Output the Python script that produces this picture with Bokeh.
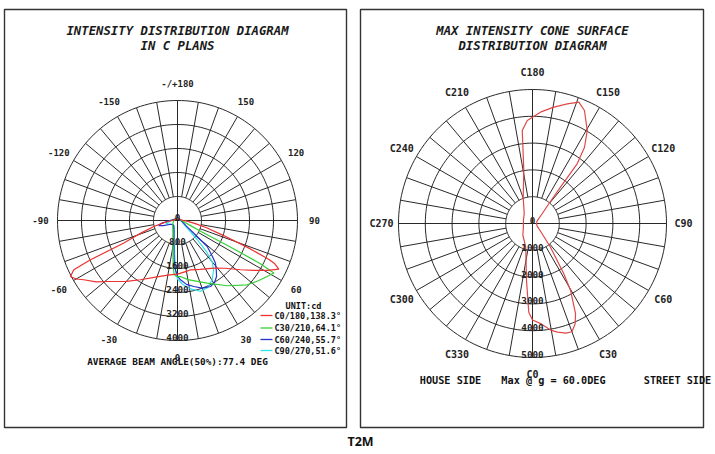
import numpy as np
from bokeh.plotting import figure
from bokeh.models import Range1d
from bokeh.embed import file_html
from bokeh.resources import INLINE
from bokeh.core.properties import value

# ---------------- data ----------------
# Left: intensity (cd) vs gamma angle (deg) in C planes
red_g = [-180, -150, -120, -100, -90, -85, -80, -75.8, -71, -67.2, -65.7, -64.6, -62.4, -60, -57.7, -53, -49, -40, -32, -20, -10, 0,
         10, 14.8, 25, 37.3, 45, 52, 57, 60.9, 64.4, 66, 67, 69, 72, 76, 80, 85, 90, 100, 120, 150, 180]
red_i = [60, 60, 80, 120, 180, 300, 500, 815, 1290, 1940, 3183, 3827, 4027, 3900, 3695, 3400, 3100, 2650, 2330, 2000, 1850, 1787,
         1720, 1700, 1800, 1997, 2250, 2667, 3050, 3423, 3745, 3550, 3300, 2500, 1600, 1000, 600, 350, 200, 120, 80, 60, 60]

green_g = [-180, -120, -90, -60, -40, -20, -10, -6, -4, -2, 0, 3, 10, 25.4, 37.3, 47.3, 53, 58, 61.4, 62.5, 63.5, 65, 70, 80, 90, 120, 180]
green_i = [60, 80, 120, 180, 250, 450, 900, 1400, 1750, 1850, 1870, 1870, 2000, 2310, 2735, 3160, 3350, 3525, 3657, 3100, 1900, 900, 400, 200, 140, 80, 60]

blue_g = [-180, -120, -90, -80, -75, -70, -60, -40, -20, -10, -5, -3, 0, 2.9, 8, 13.9, 20, 26.6, 31, 34.9, 38, 41.7, 45, 48.8, 52, 58, 70, 90, 120, 180]
blue_i = [60, 100, 250, 550, 650, 500, 250, 200, 350, 700, 1300, 1600, 1850, 1980, 2150, 2266, 2400, 2460, 2400, 2275, 2100, 1900, 1600, 1316, 690, 350, 200, 120, 80, 60]

cyan_g = [-180, -120, -90, -75, -60, -40, -20, -10, -5, -2, 0, 5, 12, 18, 24, 30, 36, 40, 43, 46, 50, 60, 75, 90, 120, 180]
cyan_i = [60, 100, 200, 400, 250, 200, 300, 600, 1100, 1700, 1950, 2150, 2350, 2480, 2450, 2300, 2050, 1800, 1400, 900, 500, 250, 150, 100, 80, 60]

left_rings = [800, 1600, 2400, 3200, 4000]
left_ring_labels = ["0", "800", "1600", "2400", "3200", "4000"]
left_tick_angles = [-180, -150, -120, -90, -60, -30, 0, 30, 60, 90, 120, 150]
left_tick_labels = ["-/+180", "-150", "-120", "-90", "-60", "-30", "0", "30", "60", "90", "120", "150"]

legend_labels = ["C0/180,138.3°", "C30/210,64.1°", "C60/240,55.7°", "C90/270,51.6°"]

# Right: intensity (cd) at gamma = 60 deg vs C angle
cone_c = [0, 5, 10, 13, 17, 20, 23, 25.5, 29.6, 31.9, 37.2, 45, 60, 90, 120, 135, 140, 142.4, 143.2, 145.7, 149.5, 155.3, 159.1, 163.8,
          170, 175.9, 182.9, 186.3, 189.3, 199.5, 220, 250, 270, 290, 320, 344, 354, 357.6, 360]
cone_i = [3600, 3760, 4050, 4160, 4280, 4300, 4070, 3730, 2875, 2210, 1110, 450, 200, 150, 200, 500, 900, 1710, 2780, 3445, 4025, 4640, 4845, 4650,
          4400, 4165, 3850, 3490, 2005, 1040, 480, 360, 340, 360, 560, 920, 2140, 3313, 3600]

right_rings = [1000, 2000, 3000, 4000, 5000]
right_ring_labels = ["0", "1000", "2000", "3000", "4000", "5000"]
right_tick_angles = [0, 30, 60, 90, 120, 150, 180, 210, 240, 270, 300, 330]
right_tick_labels = ["C0", "C30", "C60", "C90", "C120", "C150", "C180", "C210", "C240", "C270", "C300", "C330"]

# ---------------- layout ----------------
W, H = 715, 454
LCX, LCY, LR = 177, 220, 120      # left polar centre / radius (px)
RCX, RCY, RR = 532, 223, 134      # right polar centre / radius (px)

p = figure(width=W, height=H, x_range=Range1d(0, W), y_range=Range1d(H, 0),
           output_backend="svg", toolbar_location=None, min_border=0,
           x_axis_location=None, y_axis_location=None, title=None)
p.grid.visible = False
p.outline_line_color = None
p.background_fill_color = "white"
p.border_fill_color = "white"
p.styles = {"position": "absolute", "left": "0px", "top": "0px"}

lmax, rmax = left_rings[-1], right_rings[-1]
p.extra_x_ranges = {
    "L": Range1d(-LCX * lmax / LR, (W - LCX) * lmax / LR),
    "R": Range1d(-RCX * rmax / RR, (W - RCX) * rmax / RR),
}
p.extra_y_ranges = {
    "L": Range1d(-(H - LCY) * lmax / LR, LCY * lmax / LR),
    "R": Range1d(-(H - RCY) * rmax / RR, RCY * rmax / RR),
}

# panel frames
p.quad(left=[4, 360], right=[346, 703], top=[9, 9], bottom=[427, 427],
       fill_color=None, line_color="#333333", line_width=1.4)

MONO = "DejaVu Sans Mono"
GRID = "#1e1e1e"


def polar_grid(rng, rings):
    r0, r1 = rings[0], rings[-1]
    t = np.radians(np.arange(0, 361, 2))
    xs = [list(r * np.sin(t)) for r in rings]
    ys = [list(r * np.cos(t)) for r in rings]
    for a in range(0, 360, 10):
        ar = np.radians(a)
        if a % 90 == 0:
            continue
        xs.append([r0 * np.sin(ar), r1 * np.sin(ar)])
        ys.append([r0 * np.cos(ar), r1 * np.cos(ar)])
    xs += [[-r1, r1], [0, 0]]
    ys += [[0, 0], [-r1, r1]]
    p.multi_line(xs, ys, line_color=GRID, line_width=0.95, x_range_name=rng, y_range_name=rng)


polar_grid("L", left_rings)
polar_grid("R", right_rings)


def polar_xy(ang, inten):
    a = np.radians(np.asarray(ang, dtype=float))
    r = np.asarray(inten, dtype=float)
    return r * np.sin(a), -r * np.cos(a)


curves = [(cyan_g, cyan_i, "#33e0e8"), (blue_g, blue_i, "#2633c8"),
          (green_g, green_i, "#35d035"), (red_g, red_i, "#ee3030")]
for g, i, c in curves:
    x, y = polar_xy(g, i)
    p.line(x, y, line_color=c, line_width=1.2, x_range_name="L", y_range_name="L")

x, y = polar_xy(cone_c, cone_i)
p.line(x, y, line_color="#e04848", line_width=1.2, x_range_name="R", y_range_name="R")

# ring labels
p.text(x=[0] * 6, y=[-v for v in [0] + left_rings], text=left_ring_labels, x_range_name="L", y_range_name="L",
       text_font=value(MONO), text_font_style="bold", text_font_size="9.3px", text_color="#222222",
       text_align="center", text_baseline="middle", y_offset=-3)
p.text(x=[0] * 6, y=[-v for v in [0] + right_rings], text=right_ring_labels, x_range_name="R", y_range_name="R",
       text_font=value(MONO), text_font_style="bold", text_font_size="9.3px", text_color="#222222",
       text_align="center", text_baseline="middle", y_offset=-3)

# angle labels
lx, ly = polar_xy(left_tick_angles, [lmax * 137 / LR] * len(left_tick_angles))
p.text(x=lx, y=ly, text=left_tick_labels, x_range_name="L", y_range_name="L",
       text_font=value(MONO), text_font_style="bold", text_font_size="9px", text_color="#222222",
       text_align="center", text_baseline="middle")
rx, ry = polar_xy(right_tick_angles, [rmax * 151 / RR] * len(right_tick_angles))
p.text(x=rx, y=ry, text=right_tick_labels, x_range_name="R", y_range_name="R",
       text_font=value(MONO), text_font_style="bold", text_font_size="10px", text_color="#222222",
       text_align="center", text_baseline="middle")

# titles
p.text(x=[177, 177, 532, 532], y=[30, 45, 30, 45],
       text=["INTENSITY DISTRIBUTION DIAGRAM", "IN C PLANS", "MAX INTENSITY CONE SURFACE", "DISTRIBUTION DIAGRAM"],
       text_font=value(MONO), text_font_style="bold italic", text_font_size="12.3px", text_color="#1a1a1a",
       text_align="center", text_baseline="middle")

# legend
leg_colors = ["#ee3030", "#35d035", "#2633c8", "#33e0e8"]
leg_y = [315, 327.5, 339, 350]
p.text(x=[303], y=[305], text=["UNIT:cd"], text_font=value(MONO), text_font_style="bold",
       text_font_size="8.5px", text_color="#111111", text_align="center", text_baseline="middle")
p.segment(x0=[260] * 4, x1=[272] * 4, y0=leg_y, y1=leg_y, line_color=leg_colors, line_width=1.3)
p.text(x=[274] * 4, y=leg_y, text=legend_labels, text_font=value(MONO), text_font_style="bold",
       text_font_size="8.5px", text_color="#111111", text_align="left", text_baseline="middle")

# bottom notes
p.text(x=[177], y=[361], text=["AVERAGE BEAM ANGLE(50%):77.4 DEG"], text_font=value(MONO),
       text_font_style="bold", text_font_size="9.4px", text_color="#111111",
       text_align="center", text_baseline="middle")
p.text(x=[450, 553, 677], y=[380, 380, 380], text=["HOUSE SIDE", "Max @ g = 60.0DEG", "STREET SIDE"],
       text_font=value(MONO), text_font_style="bold", text_font_size="10.2px", text_color="#111111",
       text_align="center", text_baseline="middle")
p.text(x=[360], y=[441], text=["T2M"], text_font=value("Noto Sans"), text_font_style="bold",
       text_font_size="12.5px", text_color="#111111", text_align="center", text_baseline="middle")

open("out.html", "w").write(file_html(p, INLINE))
